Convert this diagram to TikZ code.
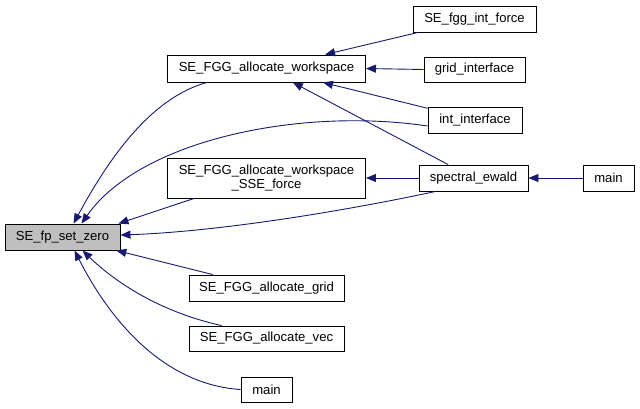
\documentclass[tikz,border=0pt]{standalone}
\usepackage{fontspec}
\setmainfont{Liberation Sans}
\usetikzlibrary{arrows.meta}
\definecolor{edgeblue}{HTML}{191970}
\definecolor{hlgray}{HTML}{BFBFBF}
\begin{document}
\begin{tikzpicture}[x=1pt,y=-1pt,
  fn/.style={draw=black,line width=0.9pt,rectangle,inner sep=0pt,align=center,font=\fontsize{13.1}{14.5}\selectfont},
  edge/.style={draw=edgeblue,line width=0.9pt,-{Triangle[length=10pt,width=8pt]}}]
\useasboundingbox (0,0) rectangle (640,408);
\node[fn,fill=hlgray,minimum width=115pt,minimum height=26pt] (zero) at (62.5,237) {SE\_fp\_set\_zero};
\node[fn,fill=white,minimum width=198pt,minimum height=27pt] (ws) at (266.5,68.5) {SE\_FGG\_allocate\_workspace};
\node[fn,fill=white,minimum width=198pt,minimum height=40pt] (sse) at (266.5,178) {SE\_FGG\_allocate\_workspace\\\_SSE\_force};
\node[fn,fill=white,minimum width=123pt,minimum height=26pt] (fgg) at (474.5,19) {SE\_fgg\_int\_force};
\node[fn,fill=white,minimum width=101pt,minimum height=25pt] (grid) at (474.5,69.5) {grid\_interface};
\node[fn,fill=white,minimum width=94pt,minimum height=26pt] (intif) at (475,120) {int\_interface};
\node[fn,fill=white,minimum width=109pt,minimum height=26pt] (se) at (473.5,178) {spectral\_ewald};
\node[fn,fill=white,minimum width=51pt,minimum height=26pt] (mainr) at (608.5,178) {main};
\node[fn,fill=white,minimum width=155pt,minimum height=26pt] (agrid) at (266.5,288) {SE\_FGG\_allocate\_grid};
\node[fn,fill=white,minimum width=155pt,minimum height=25pt] (avec) at (266.5,338.5) {SE\_FGG\_allocate\_vec};
\node[fn,fill=white,minimum width=51pt,minimum height=25pt] (mainb) at (266.5,389.5) {main};
% edges into SE_fp_set_zero
\draw[edge] ([xshift=40pt]ws.south west) .. controls (150,98) and (108,160) .. ([xshift=11pt]zero.north);
\draw[edge] ([yshift=-6pt]intif.west) .. controls (300,107) and (140,140) .. ([xshift=19pt]zero.north);
\draw[edge] ([xshift=27pt]sse.south west) -- ([xshift=-2pt]zero.north east);
\draw[edge] ([xshift=17pt]se.south west) .. controls (330,214) and (210,232) .. ([yshift=2pt]zero.east);
\draw[edge] (agrid) -- (zero);
\draw[edge] ([xshift=33pt]avec.north west) .. controls (160,312) and (115,282) .. ([xshift=20pt]zero.south);
\draw[edge] (mainb.west) .. controls (170,385) and (115,330) .. ([xshift=12pt]zero.south);
% edges into SE_FGG_allocate_workspace
\draw[edge] (fgg) -- (ws);
\draw[edge] (grid.west) -- (ws.east);
\draw[edge] (intif) -- (ws);
\draw[edge] (se) -- (ws);
% others
\draw[edge] (se.west) -- (sse.east);
\draw[edge] (mainr.west) -- (se.east);
\end{tikzpicture}
\end{document}
